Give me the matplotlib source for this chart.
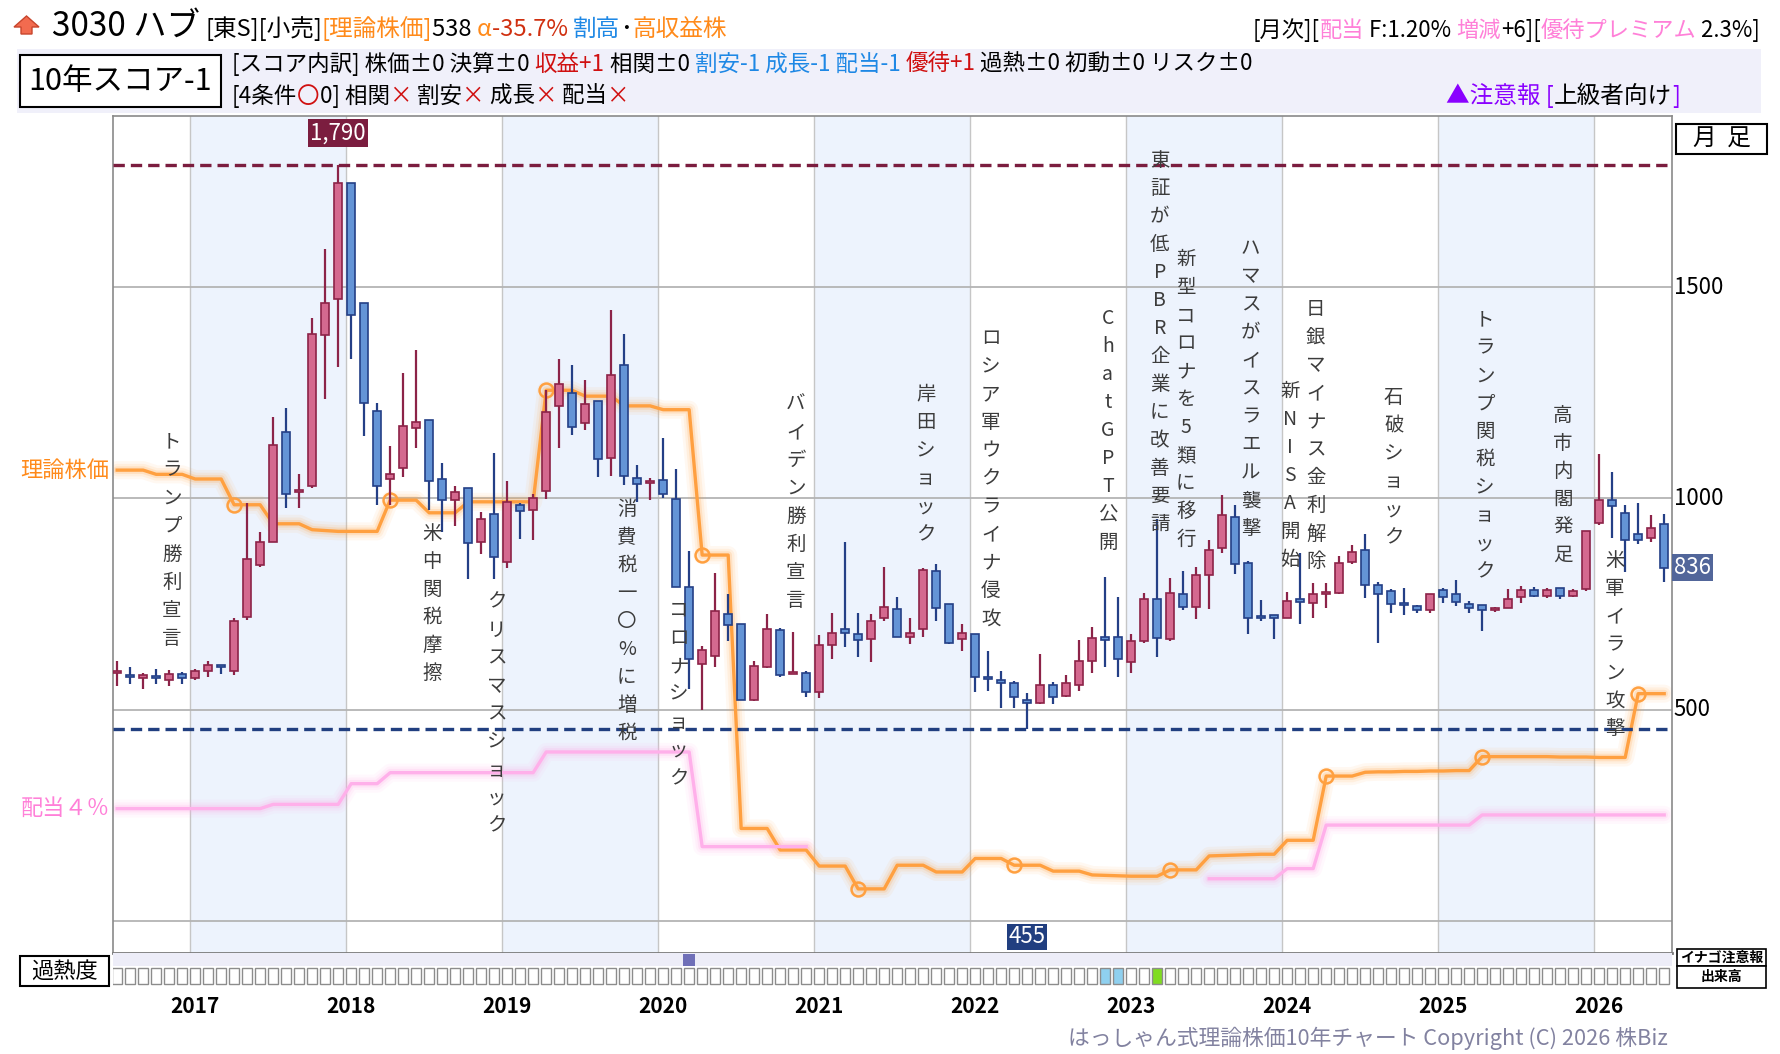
import matplotlib
matplotlib.use('Agg')
import matplotlib.pyplot as plt
import matplotlib.transforms as mtransforms
from matplotlib.patches import Rectangle, Polygon
import numpy as np

plt.rcParams['font.family'] = ['Noto Sans CJK JP', 'DejaVu Sans']

W, H = 1780, 1054

# 月足 2016-07 ～ 2026-06 (index 0 = 2016-07)
opens = [586, 583, 576, 580, 571, 584, 575, 592, 606, 592, 720, 842, 896, 1158, 1015, 1029,
         1387, 1473, 1747, 1462, 1208, 1047, 1071, 1166, 1186, 1046, 996, 1025, 898, 962,
         849, 985, 973, 1018, 1219, 1250, 1179, 1231, 1095, 1316, 1048, 1036, 1044, 999,
         791, 608, 628, 726, 702, 524, 601, 689, 585, 587, 541, 653, 690, 679, 667, 718,
         739, 673, 692, 828, 751, 667, 679, 578, 571, 564, 522, 515, 559, 533, 558, 616,
         669, 672, 614, 662, 761, 667, 773, 742, 819, 882, 957, 848, 721, 723, 718, 762,
         753, 774, 776, 849, 877, 795, 781, 751, 745, 737, 784, 773, 749, 748, 735, 740,
         767, 784, 770, 789, 769, 786, 943, 996, 965, 915, 907, 940]
highs = [616, 601, 586, 597, 595, 589, 597, 616, 606, 716, 990, 920, 1193, 1214, 1057, 1428,
         1590, 1790, 1747, 1462, 1226, 1125, 1296, 1351, 1186, 1083, 1029, 1025, 968, 1107,
         1041, 990, 1011, 1256, 1329, 1315, 1280, 1231, 1445, 1390, 1079, 1048, 1144, 1069,
         875, 651, 823, 773, 702, 616, 726, 694, 684, 592, 676, 728, 898, 730, 726, 837,
         767, 717, 835, 845, 751, 704, 679, 639, 592, 569, 539, 631, 566, 583, 664, 695,
         814, 767, 679, 776, 952, 812, 828, 837, 901, 1008, 985, 851, 759, 724, 779, 870,
         801, 801, 863, 889, 915, 803, 786, 789, 748, 773, 789, 806, 758, 748, 742, 786,
         793, 790, 788, 789, 786, 924, 1104, 1062, 985, 990, 960, 964]
lows = [555, 560, 550, 560, 557, 561, 570, 578, 585, 583, 713, 838, 896, 978, 978, 1025,
        1235, 1312, 1331, 1147, 985, 985, 1050, 1119, 973, 920, 934, 809, 868, 809,
        835, 905, 901, 999, 1119, 1151, 1163, 1051, 1053, 1031, 992, 996, 1001, 791,
        550, 499, 601, 662, 522, 520, 599, 578, 584, 531, 527, 620, 648, 625, 614, 711,
        672, 655, 672, 711, 655, 639, 543, 545, 505, 505, 455, 513, 513, 531, 545, 586,
        601, 578, 587, 658, 625, 662, 735, 714, 738, 870, 821, 679, 709, 667, 718, 703,
        716, 740, 773, 845, 765, 658, 728, 725, 730, 728, 753, 746, 728, 686, 732, 740,
        753, 767, 765, 763, 767, 782, 938, 906, 826, 893, 896, 803]
closes = [589, 577, 583, 574, 585, 575, 592, 606, 601, 709, 857, 898, 1127, 1010, 1021, 1390,
          1463, 1747, 1434, 1226, 1029, 1058, 1172, 1180, 1041, 997, 1015, 894, 952, 862,
          992, 971, 1002, 1205, 1270, 1169, 1224, 1094, 1291, 1052, 1034, 1040, 1011, 791,
          620, 642, 734, 700, 524, 603, 692, 583, 589, 543, 653, 681, 681, 664, 711, 742,
          673, 681, 831, 740, 658, 681, 578, 573, 564, 529, 517, 558, 529, 564, 616, 669,
          666, 620, 662, 763, 670, 776, 742, 818, 879, 960, 845, 717, 716, 718, 758, 756,
          773, 778, 848, 873, 796, 775, 751, 747, 737, 773, 767, 754, 740, 735, 739, 763,
          784, 770, 784, 770, 782, 922, 996, 982, 901, 901, 929, 836]

# 理論株価 / 配当4%ライン
theory = [1067, 1067, 1067, 1057, 1057, 1057, 1046, 1046, 1046, 985, 985, 985, 940, 940, 940,
          926, 924, 922, 922, 922, 922, 996, 996, 996, 966, 966, 966, 992, 992, 992, 992, 992,
          992, 1256, 1256, 1256, 1242, 1242, 1242, 1219, 1219, 1219, 1210, 1210, 1210, 866,
          866, 866, 219, 219, 219, 168, 168, 168, 130, 130, 130, 76, 76, 76, 132, 132, 132,
          116, 116, 116, 148, 148, 148, 132, 132, 132, 118, 118, 118, 109, 108, 107, 106, 106,
          106, 121, 121, 121, 154, 155, 156, 157, 158, 158, 191, 191, 191, 343, 343, 343, 352,
          353, 353, 354, 354, 355, 355, 356, 356, 389, 389, 389, 389, 389, 389, 388, 388, 388,
          387, 387, 387, 538, 538, 538]
nan = float('nan')
div4 = ([266] * 12 + [276] * 6 + [325] * 3 + [351] * 12 + [400] * 12 + [176] * 9 +
        [nan] * 30 + [100] * 6 + [124] * 3 + [227] * 12 + [251] * 15)
theory_marks = [9, 21, 33, 45, 57, 69, 81, 93, 105, 117]

years = list(range(2017, 2027))
year_start = [6 + 12 * k for k in range(10)]

events = [
    (4, 'トランプ勝利宣言', 1133),
    (24, '米中関税摩擦', 918),
    (29, 'クリスマスショック', 754),
    (39, '消費税一〇%に増税', 974),
    (43, 'コロナショック', 735),
    (52, 'バイデン勝利宣言', 1222),
    (62, '岸田ショック', 1245),
    (67, 'ロシア軍ウクライナ侵攻', 1378),
    (76, 'ChatGPT公開', 1425),
    (80, '東証が低PBR企業に改善要請', 1799),
    (82, '新型コロナを5類に移行', 1565),
    (87, 'ハマスがイスラエル襲撃', 1591),
    (90, '新NISA開始', 1253),
    (92, '日銀マイナス金利解除', 1446),
    (98, '石破ショック', 1238),
    (105, 'トランプ関税ショック', 1423),
    (111, '高市内閣発足', 1196),
    (115, '米軍イラン攻撃', 852),
]

inago_months = [44]
vol_blue = [76, 77]
vol_green = [80]

ORANGE = '#ff8a1a'
PINK = '#ff80d8'
BLUE = '#1e88e5'
RED = '#d01010'

fig = plt.figure(figsize=(W / 100, H / 100), dpi=100)
fig.patch.set_facecolor('white')


def px_rect(x0, y0, x1, y1, **kw):
    r = Rectangle((x0 / W, 1 - y1 / H), (x1 - x0) / W, (y1 - y0) / H,
                  transform=fig.transFigure, **kw)
    fig.add_artist(r)


def put_runs(x, y, runs, align='left'):
    rend = fig.canvas.get_renderer()

    def width(s, size):
        a = fig.text(0, 0, '|' + s + '|', fontsize=size)
        b = fig.text(0, 0, '||', fontsize=size)
        w = a.get_window_extent(rend).width - b.get_window_extent(rend).width
        a.remove()
        b.remove()
        return w
    ws = [width(s, sz) for s, c, sz in runs]
    cx = x - sum(ws) if align == 'right' else x
    for (s, c, sz), w in zip(runs, ws):
        fig.text(cx / W, 1 - y / H, s, color=c, fontsize=sz, ha='left', va='baseline')
        cx += w


# ---- header ----
arrow = Polygon([(26.5 / W, 1 - 16 / H), (39 / W, 1 - 27 / H), (32 / W, 1 - 27 / H),
                 (32 / W, 1 - 34 / H), (21 / W, 1 - 34 / H), (21 / W, 1 - 27 / H),
                 (14 / W, 1 - 27 / H)], closed=True, transform=fig.transFigure,
                fc='#f26b4f', ec='#c8452c', lw=1)
fig.add_artist(arrow)

put_runs(52, 36, [('3030 ハブ', 'black', 24), (' ', 'black', 16),
                  ('[東S][小売]', 'black', 17), ('[理論株価]', ORANGE, 17),
                  ('538 ', 'black', 17), ('α', ORANGE, 17), ('-35.7% ', '#d03010', 17),
                  ('割高', BLUE, 17), ('･', 'black', 17), ('高収益株', ORANGE, 17)])
put_runs(1760, 37, [('[月次][', 'black', 16), ('配当', PINK, 16), (' F:1.20% ', 'black', 16),
                    ('増減', PINK, 16), ('+6][', 'black', 16), ('優待プレミアム', PINK, 16),
                    (' 2.3%]', 'black', 16)], align='right')

px_rect(17, 49, 1761, 113, fc='#f0f0fa', ec='none')
px_rect(20, 55, 221, 107, fc='white', ec='black', lw=1.5)
fig.text(120.5 / W, 1 - 82 / H, '10年スコア-1', fontsize=22, ha='center', va='center')

put_runs(232, 71, [('[スコア内訳] 株価±0 決算±0 ', 'black', 16.2), ('収益+1', RED, 16.2),
                   (' 相関±0 ', 'black', 16.2), ('割安-1 成長-1 配当-1', BLUE, 16.2),
                   (' ', 'black', 16.2), ('優待+1', RED, 16.2),
                   (' 過熱±0 初動±0 リスク±0', 'black', 16.2)])
put_runs(232, 103, [('[4条件', 'black', 16.2), ('〇', RED, 16.2), ('0] 相関', 'black', 16.2),
                    ('×', RED, 16.2), (' 割安', 'black', 16.2), ('×', RED, 16.2),
                    (' 成長', 'black', 16.2), ('×', RED, 16.2), (' 配当', 'black', 16.2),
                    ('×', RED, 16.2)])
put_runs(1680, 103, [('▲注意報 [', '#8a00ff', 17), ('上級者向け', 'black', 17),
                     (']', '#8a00ff', 17)], align='right')

# ---- main chart ----
ax = fig.add_axes([112.6 / W, 1 - 952.7 / H, (1672 - 112.6) / W, (952.7 - 116) / H])
ax.set_xlim(-0.35, 119.6)
ax.set_ylim(-75, 1905)
ax.set_xticks([])
ax.set_yticks([])
for side in ['left', 'top', 'right']:
    ax.spines[side].set_color('#8a8a8a')
    ax.spines[side].set_linewidth(1.2)
ax.spines['bottom'].set_color('#7a7a7a')
ax.spines['bottom'].set_linewidth(2)

for k, ys in enumerate(year_start):
    if k % 2 == 0:
        ax.axvspan(ys - 0.4, ys + 11.6, color='#edf3fd', zorder=0, lw=0)
    ax.axvline(ys - 0.4, color='#c6c6c6', lw=1, zorder=1)
for v in [0, 500, 1000, 1500]:
    ax.axhline(v, color='#b4b4b4', lw=1.3, zorder=1)

right_tr = mtransforms.blended_transform_factory(ax.transAxes, ax.transData)
for v in [500, 1000, 1500]:
    ax.text(1.001, v, str(v), transform=right_tr, ha='left', va='center', fontsize=16)

x = np.arange(len(closes))
o = np.array(opens, float)
hh = np.array(highs, float)
ll = np.array(lows, float)
c = np.array(closes, float)
up = c >= o

th = np.array(theory, float)
dv = np.array(div4, float)
for lw, a in [(13, 0.07), (9, 0.1), (5.5, 0.18)]:
    ax.plot(x, th, color='#ffa040', lw=lw, alpha=a, zorder=2, solid_capstyle='round')
    ax.plot(x, dv, color='#ffa8e6', lw=lw, alpha=a, zorder=2, solid_capstyle='round')
ax.plot(x, th, color='#ffa040', lw=2.4, zorder=3)
ax.plot(x, dv, color='#ffb0ea', lw=2.4, zorder=3)
ax.plot(theory_marks, th[theory_marks], 'o', mfc='none', mec='#ffa040', ms=10, mew=1.8, zorder=3)

hi_i = int(np.argmax(hh))
lo_i = int(np.argmin(ll))
ax.axhline(hh[hi_i], color='#7b1d3f', lw=2.4, ls=(0, (3.4, 1.8)), zorder=3)
ax.axhline(ll[lo_i], color='#213f80', lw=2.4, ls=(0, (3.4, 1.8)), zorder=3)

ax.vlines(x[up], ll[up], hh[up], color='#8c2348', lw=1.6, zorder=4)
ax.vlines(x[~up], ll[~up], hh[~up], color='#243f86', lw=1.6, zorder=4)
bot = np.minimum(o, c)
bh = np.maximum(np.abs(c - o), 5)
ax.bar(x[up], bh[up], bottom=bot[up], width=0.6, color='#d4698f', edgecolor='#8c2348', lw=1.2, zorder=5)
ax.bar(x[~up], bh[~up], bottom=bot[~up], width=0.6, color='#6494d6', edgecolor='#243f86', lw=1.2, zorder=5)

top_tr = ax.get_xaxis_transform()
ax.text(hi_i, 0.9797, f'{int(hh[hi_i]):,}', transform=top_tr, ha='center', va='center',
        color='white', fontsize=16, zorder=7,
        bbox=dict(boxstyle='square,pad=0.1', fc='#7b1d3f', ec='none'))
ax.text(lo_i, 0.019, f'{int(ll[lo_i])}', transform=top_tr, ha='center', va='center',
        color='white', fontsize=16, zorder=7,
        bbox=dict(boxstyle='square,pad=0.08', fc='#213f80', ec='none'))
ax.text(1.0012, c[-1], f'{int(c[-1])}', transform=right_tr, ha='left', va='center',
        color='white', fontsize=16, zorder=7, clip_on=False,
        bbox=dict(boxstyle='square,pad=0.08', fc='#52669a', ec='none'))

ax.text(-0.002, th[0], '理論株価', transform=right_tr, ha='right', va='center',
        color=ORANGE, fontsize=16)
ax.text(-0.002, dv[0], '配当４％', transform=right_tr, ha='right', va='center',
        color=PINK, fontsize=16)

for m, label, top in events:
    for k, ch in enumerate(label):
        tr = mtransforms.offset_copy(ax.transData, fig=fig, x=0, y=-k * 28, units='dots')
        ax.text(m + 0.2, top, ch, transform=tr, ha='center', va='center',
                fontsize=14, color='#3c3c3c', zorder=6)

for yv, ys in zip(years, year_start):
    ax.text(ys, -0.0645, str(yv), transform=top_tr, ha='center', va='center',
            fontsize=15, fontweight='bold')

# ---- overheat strip ----
hx = fig.add_axes([112.6 / W, 1 - 986 / H, (1672 - 112.6) / W, 33 / H])
hx.set_xlim(-0.35, 119.6)
hx.set_ylim(0, 1)
hx.axis('off')
hx.add_patch(Rectangle((-0.35, 0.62), 119.95, 0.38, fc='#ededf8', ec='none'))
for i in range(len(closes)):
    fc = 'white'
    if i in vol_blue:
        fc = '#8fd0ef'
    elif i in vol_green:
        fc = '#80dc20'
    hx.add_patch(Rectangle((i - 0.4, 0.06), 0.8, 0.5, fc=fc, ec='#8c8c8c', lw=1))
for i in inago_months:
    hx.add_patch(Rectangle((i - 0.45, 0.62), 0.9, 0.36, fc='#7070b8', ec='none'))

px_rect(20, 955.7, 109, 985.7, fc='white', ec='black', lw=1.5)
fig.text(64.5 / W, 1 - 971 / H, '過熱度', fontsize=16, ha='center', va='center')
px_rect(1677, 949, 1766, 966, fc='white', ec='black', lw=1.2)
px_rect(1677, 966, 1766, 988, fc='white', ec='black', lw=1.2)
fig.text(1721.5 / W, 1 - 957.5 / H, 'イナゴ注意報', fontsize=10, fontweight='bold', ha='center', va='center')
fig.text(1721.5 / W, 1 - 977 / H, '出来高', fontsize=10, fontweight='bold', ha='center', va='center')

px_rect(1676, 124, 1767, 154, fc='white', ec='black', lw=1.5)
fig.text(1721.5 / W, 1 - 139 / H, '月  足', fontsize=17, ha='center', va='center')

fig.text(1668 / W, 1 - 1038 / H, 'はっしゃん式理論株価10年チャート Copyright (C) 2026 株Biz',
         fontsize=15.7, color='#8282a0', ha='right', va='center')

fig.savefig('out.png', dpi=100)
